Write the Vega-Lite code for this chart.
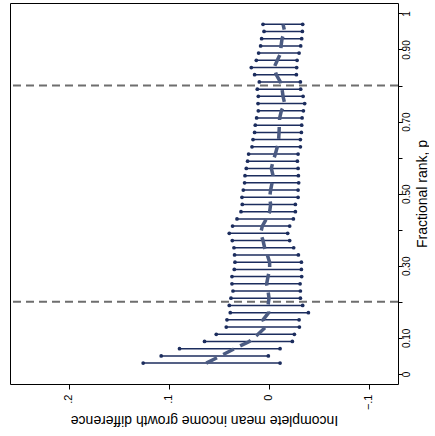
{
  "$schema": "https://vega.github.io/schema/vega-lite/v6.json",
  "width": 388,
  "height": 381,
  "padding": {"left": 9, "top": 3, "right": 0, "bottom": 0},
  "background": "white",
  "config": {
    "view": {"stroke": "#000000", "strokeWidth": 1},
    "font": "Liberation Sans"
  },
  "datasets": {
    "ci": [
      {"p":0.97,"hi":0.0058,"lo":-0.0338,"est":-0.0142},
      {"p":0.95,"hi":0.0048,"lo":-0.0335,"est":-0.0158},
      {"p":0.93,"hi":0.0072,"lo":-0.0328,"est":-0.0132},
      {"p":0.91,"hi":0.0082,"lo":-0.0318,"est":-0.0122},
      {"p":0.89,"hi":0.0102,"lo":-0.0302,"est":-0.0118},
      {"p":0.87,"hi":0.0125,"lo":-0.0282,"est":-0.0085},
      {"p":0.85,"hi":0.0175,"lo":-0.0278,"est":-0.0052},
      {"p":0.83,"hi":0.0142,"lo":-0.0275,"est":-0.0075},
      {"p":0.81,"hi":0.0095,"lo":-0.0315,"est":-0.0115},
      {"p":0.79,"hi":0.0115,"lo":-0.0318,"est":-0.0132},
      {"p":0.77,"hi":0.0105,"lo":-0.0342,"est":-0.0142},
      {"p":0.75,"hi":0.0108,"lo":-0.0358,"est":-0.0158},
      {"p":0.73,"hi":0.0105,"lo":-0.0345,"est":-0.0125},
      {"p":0.71,"hi":0.0122,"lo":-0.0332,"est":-0.0108},
      {"p":0.69,"hi":0.0135,"lo":-0.0328,"est":-0.0105},
      {"p":0.67,"hi":0.0142,"lo":-0.0325,"est":-0.0102},
      {"p":0.65,"hi":0.0158,"lo":-0.0315,"est":-0.0098},
      {"p":0.63,"hi":0.0168,"lo":-0.0315,"est":-0.0085},
      {"p":0.61,"hi":0.0202,"lo":-0.0292,"est":-0.0065},
      {"p":0.59,"hi":0.0212,"lo":-0.0285,"est":-0.0042},
      {"p":0.57,"hi":0.0225,"lo":-0.0292,"est":-0.0025},
      {"p":0.55,"hi":0.0238,"lo":-0.0295,"est":-0.0042},
      {"p":0.53,"hi":0.0242,"lo":-0.0298,"est":-0.0032},
      {"p":0.51,"hi":0.0255,"lo":-0.0292,"est":-0.0018},
      {"p":0.49,"hi":0.0268,"lo":-0.0292,"est":-0.0008},
      {"p":0.47,"hi":0.0265,"lo":-0.0265,"est":-0.0018},
      {"p":0.45,"hi":0.0278,"lo":-0.0265,"est":-0.0008},
      {"p":0.43,"hi":0.0318,"lo":-0.0245,"est":0.0025},
      {"p":0.41,"hi":0.0362,"lo":-0.0208,"est":0.0065},
      {"p":0.39,"hi":0.0395,"lo":-0.0188,"est":0.0082},
      {"p":0.37,"hi":0.0365,"lo":-0.0208,"est":0.0058},
      {"p":0.35,"hi":0.0348,"lo":-0.0248,"est":0.0042},
      {"p":0.33,"hi":0.0342,"lo":-0.0295,"est":0.0015},
      {"p":0.31,"hi":0.0338,"lo":-0.0325,"est":-0.0008},
      {"p":0.29,"hi":0.0345,"lo":-0.0325,"est":-0.0008},
      {"p":0.27,"hi":0.0368,"lo":-0.0328,"est":0.0008},
      {"p":0.25,"hi":0.0368,"lo":-0.0312,"est":0.0022},
      {"p":0.23,"hi":0.0358,"lo":-0.0315,"est":0.0008},
      {"p":0.21,"hi":0.0378,"lo":-0.0315,"est":-0.0002},
      {"p":0.19,"hi":0.0395,"lo":-0.0338,"est":0.0008},
      {"p":0.17,"hi":0.0385,"lo":-0.0395,"est":0.0002},
      {"p":0.15,"hi":0.0418,"lo":-0.0302,"est":0.0058},
      {"p":0.13,"hi":0.0425,"lo":-0.0305,"est":0.0032},
      {"p":0.11,"hi":0.0525,"lo":-0.0255,"est":0.0108},
      {"p":0.09,"hi":0.0642,"lo":-0.0235,"est":0.0195},
      {"p":0.07,"hi":0.0892,"lo":-0.0112,"est":0.0342},
      {"p":0.05,"hi":0.1075,"lo":0.0005,"est":0.0482},
      {"p":0.03,"hi":0.1255,"lo":-0.0112,"est":0.0625}
    ]
  },
  "data": {"name": "ci"},
  "encoding": {
    "y": {
      "field": "p", "type": "quantitative",
      "scale": {"domain": [-0.028, 1.029], "nice": false, "zero": false},
      "axis": {
        "orient": "right",
        "title": "Fractional rank, p",
        "titleAngle": 270,
        "titleBaseline": "top",
        "titleAlign": "center",
        "titleFontSize": 14,
        "titleFontWeight": "normal",
        "titleColor": "#000000",
        "titleX": 17,
        "values": [0,0.1,0.2,0.3,0.4,0.5,0.6,0.7,0.8,0.9,1],
        "labelExpr": "datum.value == 0 ? '0' : datum.value == 1 ? '1' : (round(datum.value*10) % 2 == 1 ? format(datum.value, '.2f') : '')",
        "labelAngle": 270,
        "labelAlign": "center",
        "labelBaseline": "top",
        "labelFontSize": 10,
        "labelColor": "#000000",
        "labelPadding": -1,
        "tickColor": "#000000",
        "tickSize": 4,
        "domain": false,
        "grid": false,
        "labelOverlap": false
      }
    }
  },
  "layer": [
    {
      "mark": {"type": "rule", "color": "#1c2d5e", "strokeWidth": 1.5},
      "encoding": {
        "x": {
          "field": "lo", "type": "quantitative",
          "scale": {"domain": [-0.129, 0.2585], "nice": false, "zero": false, "reverse": true},
          "axis": {
            "title": "Incomplete mean income growth difference",
            "titleAngle": 180,
            "titleBaseline": "bottom",
            "titleFontSize": 14,
            "titleFontWeight": "normal",
            "titleColor": "#000000",
            "titlePadding": 3,
            "values": [-0.1, 0, 0.1, 0.2],
            "labelExpr": "datum.value == 0 ? '0' : replace(format(datum.value, '.1f'), '0.', '.')",
            "labelAngle": 270,
            "labelAlign": "right",
            "labelBaseline": "middle",
            "labelFontSize": 11,
            "labelColor": "#000000",
            "labelPadding": 5,
            "tickColor": "#000000",
            "tickSize": 5,
            "domain": false,
            "grid": false
          }
        },
        "x2": {"field": "hi"}
      }
    },
    {
      "mark": {"type": "point", "shape": "circle", "filled": true, "color": "#1c2d5e", "size": 14, "opacity": 1},
      "encoding": {"x": {"field": "lo", "type": "quantitative"}}
    },
    {
      "mark": {"type": "point", "shape": "circle", "filled": true, "color": "#1c2d5e", "size": 14, "opacity": 1},
      "encoding": {"x": {"field": "hi", "type": "quantitative"}}
    },
    {
      "data": {"values": [{"v": 0}]},
      "mark": {"type": "rule", "color": "#777777", "strokeWidth": 1.8},
      "encoding": {"x": {"field": "v", "type": "quantitative"}}
    },
    {
      "data": {"values": [{"v": -0.0185}]},
      "mark": {"type": "rule", "color": "#6e6e6e", "strokeWidth": 2, "strokeDash": [8, 5]},
      "encoding": {"x": {"field": "v", "type": "quantitative"}}
    },
    {
      "data": {"values": [{"q": 0.2}, {"q": 0.8}]},
      "mark": {"type": "rule", "color": "#6e6e6e", "strokeWidth": 2, "strokeDash": [8, 5]},
      "encoding": {"y": {"field": "q", "type": "quantitative"}}
    },
    {
      "mark": {"type": "line", "color": "#4b5b82", "strokeWidth": 3.5, "strokeDash": [12, 7]},
      "encoding": {
        "x": {"field": "est", "type": "quantitative"},
        "order": {"field": "p", "type": "quantitative"}
      }
    }
  ]
}
